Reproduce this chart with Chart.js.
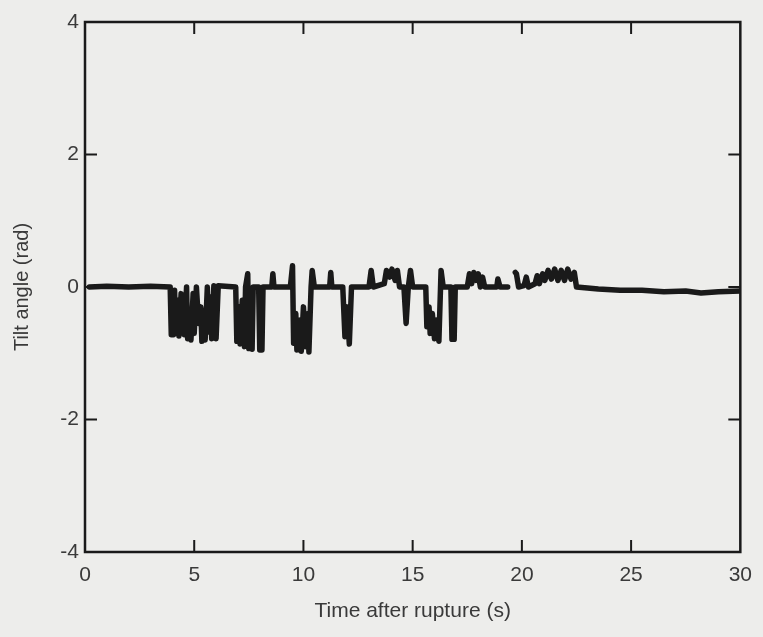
<!DOCTYPE html>
<html>
<head>
<meta charset="utf-8">
<script src="https://cdn.jsdelivr.net/npm/chart.js@4.4.1/dist/chart.umd.min.js"></script>
<style>
  html, body { margin: 0; padding: 0; background: #ededeb; }
  #wrap { width: 763px; height: 637px; }
</style>
</head>
<body>
<div id="wrap"><canvas id="tilt"></canvas></div>
<script>
// время после разрыва (с)
var timeS = [0.2, 1.0, 2.0, 3.0, 3.9,
  3.95, 4.05, 4.1, 4.15, 4.25, 4.3, 4.4, 4.45, 4.5, 4.55, 4.65, 4.7, 4.8, 4.85, 4.95,
  5.0, 5.1, 5.2, 5.3, 5.35, 5.45, 5.5, 5.6, 5.65, 5.75, 5.8, 5.9, 6.0, 6.1,
  6.9, 6.95, 7.05, 7.1, 7.2, 7.3, 7.35, 7.45, 7.5, 7.6, 7.65, 7.7, 7.95, 8.0, 8.1, 8.15,
  8.55, 8.6, 8.65, 9.4, 9.5, 9.55, 9.65, 9.7, 9.85, 9.9, 10.0, 10.1, 10.2, 10.25, 10.35, 10.4, 10.5,
  11.2, 11.25, 11.3, 11.8, 11.9, 12.0, 12.1, 12.2, 13.0, 13.1, 13.2,
  13.7, 13.8, 13.95, 14.05, 14.2, 14.3, 14.4, 14.6, 14.7, 14.8, 14.9, 15.0,
  15.6, 15.65, 15.75, 15.8, 15.9, 16.0, 16.1, 16.2, 16.3, 16.4, 16.75, 16.8, 16.9, 16.95,
  17.5, 17.6, 17.7, 17.8, 17.9, 18.0, 18.1, 18.2, 18.3, 18.85, 18.9, 19.0, 19.35,
  19.5, 19.7, 19.75, 19.85, 20.1, 20.2, 20.3, 20.6, 20.7, 20.8, 20.95, 21.05, 21.2, 21.35,
  21.5, 21.65, 21.8, 21.95, 22.1, 22.25, 22.4, 22.5,
  23.5, 24.5, 25.5, 26.5, 27.5, 28.2, 29.0, 30.0];
// угол наклона (рад)
var tiltRad = [0, 0.01, 0, 0.01, 0,
  -0.72, -0.72, -0.05, -0.7, -0.2, -0.74, -0.1, -0.6, -0.2, -0.72, 0, -0.78, -0.4, -0.8, -0.1,
  -0.7, 0, -0.55, -0.3, -0.82, -0.35, -0.8, 0, -0.68, -0.15, -0.78, 0.02, -0.78, 0.02,
  0, -0.82, -0.3, -0.86, -0.2, -0.9, 0, 0.2, -0.93, -0.1, -0.94, 0, 0, -0.95, -0.95, 0,
  0, 0.2, 0, 0, 0.32, -0.85, -0.4, -0.95, -0.5, -0.97, -0.3, -0.9, -0.4, -0.98, 0, 0.25, 0,
  0, 0.22, 0, 0, -0.75, -0.3, -0.86, 0, 0, 0.25, 0,
  0.05, 0.25, 0.15, 0.27, 0.1, 0.25, 0, 0, -0.55, 0, 0.25, 0,
  0, -0.6, -0.3, -0.7, -0.4, -0.78, -0.5, -0.82, 0.25, 0, 0, -0.79, -0.79, 0,
  0, 0.2, 0.05, 0.22, 0.1, 0.2, 0, 0.15, 0, 0, 0.12, 0, 0,
  null, 0.22, 0.2, 0, 0.02, 0.15, 0, 0.05, 0.17, 0.05, 0.2, 0.1, 0.25, 0.12,
  0.27, 0.1, 0.25, 0.1, 0.27, 0.12, 0.22, 0,
  -0.03, -0.05, -0.05, -0.07, -0.06, -0.09, -0.07, -0.06];
var xTicks = [0, 5, 10, 15, 20, 25, 30];
var yTicks = [-4, -2, 0, 2, 4];

var ink = '#1a1a1a';
var textCol = '#3a3a3a';

var points = timeS.map(function (t, i) { return { x: t, y: tiltRad[i] }; });

// рамка и внутренние засечки со всех четырёх сторон
var framePlugin = {
  id: 'frame',
  afterDraw: function (chart) {
    var ctx = chart.ctx, a = chart.chartArea;
    var sx = chart.scales.x, sy = chart.scales.y;
    var len = 12;
    ctx.save();
    ctx.strokeStyle = ink;
    ctx.lineWidth = 2.5;
    ctx.strokeRect(a.left, a.top, a.right - a.left, a.bottom - a.top);
    ctx.lineWidth = 2;
    ctx.beginPath();
    xTicks.slice(1, -1).forEach(function (v) {
      var px = sx.getPixelForValue(v);
      ctx.moveTo(px, a.bottom); ctx.lineTo(px, a.bottom - len);
      ctx.moveTo(px, a.top); ctx.lineTo(px, a.top + len);
    });
    yTicks.slice(1, -1).forEach(function (v) {
      var py = sy.getPixelForValue(v);
      ctx.moveTo(a.left, py); ctx.lineTo(a.left + len, py);
      ctx.moveTo(a.right, py); ctx.lineTo(a.right - len, py);
    });
    ctx.stroke();
    ctx.restore();
  }
};

var ctx = document.getElementById('tilt').getContext('2d');
new Chart(ctx, {
  type: 'line',
  data: {
    datasets: [{
      data: points,
      borderColor: ink,
      borderWidth: 5.5,
      pointRadius: 0,
      tension: 0,
      spanGaps: false,
      borderJoinStyle: 'round',
      borderCapStyle: 'round'
    }]
  },
  options: {
    responsive: true,
    maintainAspectRatio: false,
    animation: false,
    layout: { padding: { left: 0, right: 16, top: 22, bottom: 9 } },
    plugins: { legend: { display: false }, tooltip: { enabled: false } },
    scales: {
      x: {
        type: 'linear',
        min: 0, max: 30,
        afterFit: function (s) { s.height = 76; },
        afterBuildTicks: function (s) { s.ticks = xTicks.map(function (v) { return { value: v }; }); },
        grid: { display: false, drawTicks: false },
        border: { display: false },
        ticks: { color: textCol, padding: 11, font: { family: 'Liberation Sans', size: 21 } },
        title: { display: true, text: 'Time after rupture (s)', color: textCol, padding: { top: 2 },
                 font: { family: 'Liberation Sans', size: 21 } }
      },
      y: {
        min: -4, max: 4,
        afterFit: function (s) { s.width = 85; },
        afterBuildTicks: function (s) { s.ticks = yTicks.map(function (v) { return { value: v }; }); },
        grid: { display: false, drawTicks: false },
        border: { display: false },
        ticks: { color: textCol, padding: 6, font: { family: 'Liberation Sans', size: 21 } },
        title: { display: true, text: 'Tilt angle (rad)', color: textCol, padding: { top: 10, bottom: 4 },
                 font: { family: 'Liberation Sans', size: 20 } }
      }
    }
  },
  plugins: [framePlugin]
});
</script>
</body>
</html>
